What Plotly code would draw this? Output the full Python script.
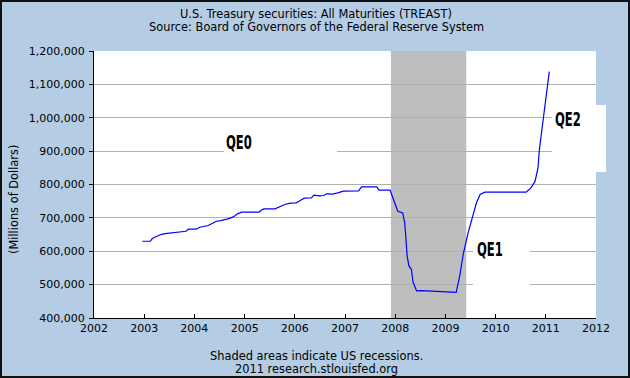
import plotly.graph_objects as go

# ---- data ----
dates = ["2002-12-18", "2003-02-15", "2003-03-01", "2003-04-01", "2003-05-01", "2003-06-01",
         "2003-08-01", "2003-10-01", "2003-11-01", "2003-11-20", "2004-01-15", "2004-02-10",
         "2004-04-10", "2004-05-10", "2004-06-10", "2004-07-10", "2004-09-01", "2004-10-10",
         "2004-11-10", "2004-12-10", "2005-04-15", "2005-05-01", "2005-05-20", "2005-08-10",
         "2005-09-10", "2005-10-20", "2005-12-01", "2006-01-10", "2006-02-10", "2006-03-10",
         "2006-05-01", "2006-05-20", "2006-07-01", "2006-08-01", "2006-08-20", "2006-10-01",
         "2006-11-10", "2006-12-20", "2007-04-10", "2007-04-25", "2007-05-01", "2007-08-20",
         "2007-09-05", "2007-11-25", "2007-12-10", "2008-01-05", "2008-01-20", "2008-02-25",
         "2008-03-10", "2008-03-18", "2008-03-28", "2008-04-10", "2008-04-28", "2008-05-10",
         "2008-06-05", "2008-07-10", "2008-09-20", "2008-12-01", "2009-03-20", "2009-04-15",
         "2009-05-10", "2009-06-15", "2009-07-20", "2009-08-15", "2009-09-10", "2009-10-15",
         "2010-08-10", "2010-09-15", "2010-10-15", "2010-11-05", "2010-11-15", "2010-12-15",
         "2011-01-10", "2011-01-26"]
values = [630000, 630000, 638000, 645000, 650000, 653000,
          655000, 657000, 660000, 666000, 666000, 672000,
          677000, 683000, 690000, 692000, 697000, 703000,
          712000, 717000, 717000, 723000, 727000, 727000,
          733000, 740000, 744000, 745000, 752000, 759000,
          760000, 768000, 766000, 767000, 772000, 771000,
          775000, 780000, 781000, 790000, 793000, 793000,
          783000, 783000, 765000, 732000, 720000, 715000,
          686000, 646000, 586000, 556000, 546000, 507000,
          481000, 482000, 480000, 479000, 477000, 527000,
          591000, 656000, 705000, 746000, 770000, 777000,
          777000, 790000, 810000, 850000, 904000, 1004000,
          1074000, 1138000]

recession_start = "2007-12-01"
recession_end = "2009-06-01"

x_ticks = [f"{y}-01-01" for y in range(2002, 2013)]
x_ticklabels = [str(y) for y in range(2002, 2013)]
y_ticks = list(range(400000, 1200001, 100000))
y_ticklabels = [f"{v:,}" for v in y_ticks]

qe_labels = ["QE0", "QE1", "QE2"]

# ---- layout geometry (pixels) ----
W, H = 630, 378
L, R, T, B = 94, 34, 51, 60
PW, PH = W - L - R, H - T - B


def px(x):
    return (x - L) / PW


def py(y):
    return (H - B - y) / PH


BG = "#B4CDE4"
FONT = "DejaVu Sans, Verdana, sans-serif"
QEFONT = "DejaVu Sans, sans-serif"

fig = go.Figure()
fig.add_trace(go.Scatter(x=dates, y=values, mode="lines",
                         line=dict(color="#0000FF", width=1.2),
                         hoverinfo="skip", showlegend=False))

shapes = [
    dict(type="rect", xref="x", yref="paper", x0=recession_start, x1=recession_end,
         y0=0, y1=1, fillcolor="#BEBEBE", line=dict(width=0), layer="between"),
    # white label boxes
    dict(type="rect", xref="paper", yref="paper", x0=px(224), x1=px(337), y0=py(178), y1=py(124),
         fillcolor="white", line=dict(width=0), layer="above"),
    dict(type="rect", xref="paper", yref="paper", x0=px(473), x1=px(530), y0=py(305), y1=py(226),
         fillcolor="white", line=dict(width=0), layer="above"),
    dict(type="rect", xref="paper", yref="paper", x0=px(552), x1=px(606), y0=py(172), y1=py(105),
         fillcolor="white", line=dict(width=0), layer="above"),
    # outer border
    dict(type="rect", xref="paper", yref="paper", x0=px(1), x1=px(629), y0=py(377), y1=py(1),
         fillcolor="rgba(0,0,0,0)", line=dict(color="#111111", width=2), layer="above"),
]

annotations = [
    dict(text="U.S. Treasury securities: All Maturities (TREAST)", x=px(316), y=py(14)),
    dict(text="Source: Board of Governors of the Federal Reserve System", x=px(316), y=py(27)),
    dict(text="Shaded areas indicate US recessions.", x=px(316), y=py(356)),
    dict(text="2011 research.stlouisfed.org", x=px(316), y=py(369)),
    dict(text="(Millions of Dollars)", x=px(14), y=py(200), textangle=-90),
]
for a in annotations:
    a.update(xref="paper", yref="paper", xanchor="center", yanchor="middle",
             showarrow=False, font=dict(family=FONT, size=11.4, color="#000000"))

qe_pos = [(224, 142), (475, 249), (553, 119)]
for lab, (qx, qy) in zip(qe_labels, qe_pos):
    annotations.append(dict(text=f"<b>{lab}</b>", x=px(qx), y=py(qy), xref="paper", yref="paper",
                            xanchor="left", yanchor="middle", showarrow=False,
                            font=dict(family=QEFONT, size=20, color="#000000")))

fig.update_layout(
    width=W, height=H,
    margin=dict(l=L, r=R, t=T, b=B, pad=0),
    paper_bgcolor=BG, plot_bgcolor="white",
    shapes=shapes, annotations=annotations,
    showlegend=False,
    font=dict(family=FONT, size=11, color="#000000"),
    xaxis=dict(type="date", range=["2002-01-01", "2012-01-01"],
               tickmode="array", tickvals=x_ticks, ticktext=x_ticklabels,
               ticks="inside", ticklen=4, tickcolor="#000000",
               showgrid=False, zeroline=False,
               showline=True, linecolor="#000000", linewidth=1,
               tickfont=dict(family=FONT, size=11)),
    yaxis=dict(range=[400000, 1200000],
               tickmode="array", tickvals=y_ticks, ticktext=y_ticklabels,
               ticks="outside", ticklen=4, tickcolor="#000000",
               showgrid=True, gridcolor="#B0B0B0", gridwidth=1, zeroline=False,
               showline=True, linecolor="#000000", linewidth=1,
               ticklabelstandoff=2,
               tickfont=dict(family=FONT, size=11)),
)

# remove the page margin and squeeze the hand-lettered QE labels horizontally (condensed look)
post = """
document.body.style.margin = '0px';
document.querySelectorAll('text.annotation-text').forEach(function (t) {
  if (/^QE/.test(t.textContent)) {
    var b = t.getBBox();
    var x0 = b.x;
    var old = t.getAttribute('transform') || '';
    t.setAttribute('transform', old + ' translate(' + x0 + ',0) scale(0.58,1) translate(' + (-x0) + ',0)');
  }
});
"""

fig.write_html("out.html", config={"displayModeBar": False}, post_script=post)
